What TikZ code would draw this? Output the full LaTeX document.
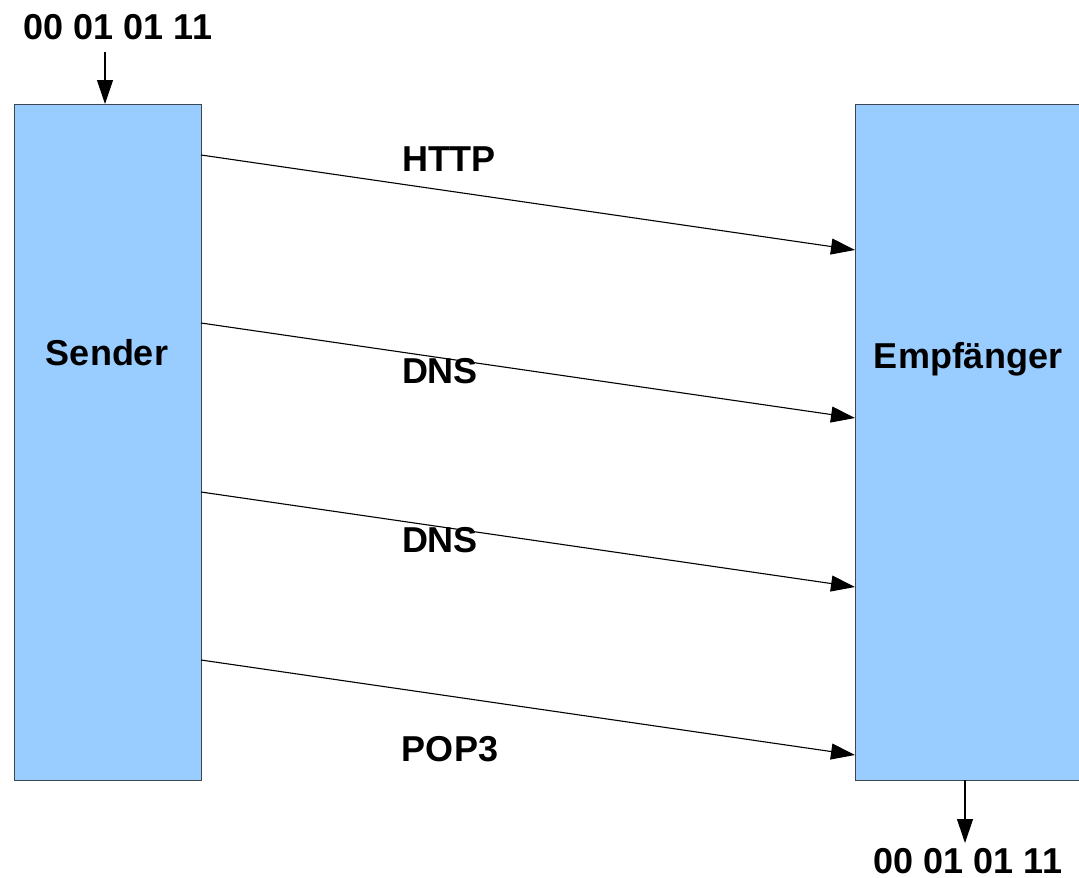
\documentclass[tikz,border=0pt]{standalone}
\usepackage{fontspec}
\setmainfont{Liberation Sans}
\usetikzlibrary{arrows.meta}
\definecolor{boxfill}{HTML}{99CCFF}
\definecolor{boxline}{HTML}{3C4650}
\begin{document}
\begin{tikzpicture}[x=1pt,y=-1pt,
  blockbox/.style={draw=boxline,line width=1.3pt,fill=boxfill,inner sep=0pt,anchor=north west},
  lbl/.style={font=\bfseries\fontsize{36}{40}\selectfont,inner sep=0pt},
  flow/.style={line width=1.1pt,-{Triangle[length=24pt,width=16pt]}}]
  \useasboundingbox (0,0) rectangle (1079,878);
  \clip (0,0) rectangle (1079,878);
  % the two station blocks
  \node[blockbox,minimum width=187pt,minimum height=676pt] (sender) at (14,104) {};
  \node[blockbox,minimum width=250pt,minimum height=676pt] (empf) at (855,104) {};
  \node[lbl] (sendertxt) at (107,353) {Sender};
  \node[lbl] (empftxt) at (968,359) {Empfänger};
  % bit strings in and out
  \node[lbl] (bitsin) at (118,27) {00 01 01 11};
  \node[lbl] (bitsout) at (968,861) {00 01 01 11};
  \coordinate (inStart) at (105,52);
  \coordinate (inEnd) at (105,104);
  \coordinate (outStart) at (965,780);
  \coordinate (outEnd) at (965,843);
  \draw[flow] (inStart) -- (inEnd);
  \draw[flow] (outStart) -- (outEnd);
  % protocol messages
  \foreach \i/\ya/\yb in {1/155/250, 2/323/418, 3/492/587, 4/660/755}{
    \coordinate (s\i) at (201,\ya);
    \coordinate (e\i) at (855,\yb);
    \draw[flow] (s\i) -- (e\i);
  }
  \node[lbl] (http) at (449,159) {HTTP};
  \node[lbl] (dns1) at (440,371) {DNS};
  \node[lbl] (dns2) at (440,540) {DNS};
  \node[lbl] (pop3) at (450,749) {POP3};
\end{tikzpicture}
\end{document}
